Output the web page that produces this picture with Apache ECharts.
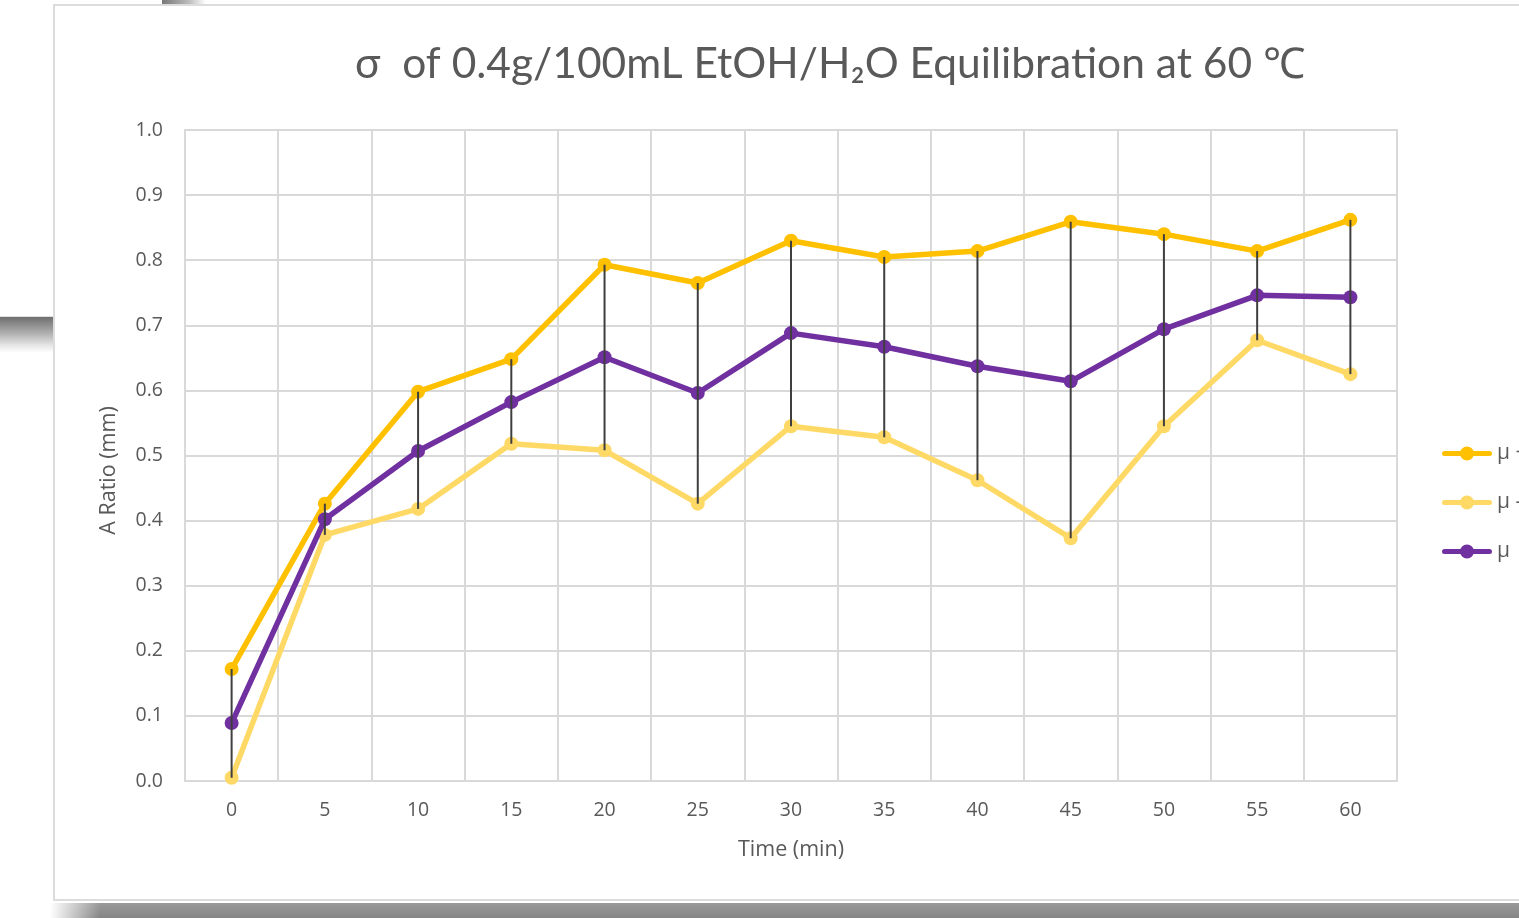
<!DOCTYPE html>
<html>
<head>
<meta charset="utf-8">
<script src="https://cdn.jsdelivr.net/npm/echarts@6/dist/echarts.min.js"></script>
<style>
  html, body { margin: 0; padding: 0; width: 1519px; height: 918px; overflow: hidden; background: #ffffff; }
  .topbar { position: absolute; left: 162px; top: 0; width: 44px; height: 4px; background: linear-gradient(to right, #777 0%, #bbb 60%, #fff 100%); }
  .leftbar { position: absolute; left: 0; top: 316px; width: 53px; height: 36px; background: linear-gradient(to bottom, #6f6f6f 0%, #a8a8a8 40%, #e8e8e8 80%, #ffffff 100%); border-top: 1px solid #e0e0e0; }
  .shadow { position: absolute; left: 50px; top: 903px; width: 1470px; height: 15px; background: linear-gradient(to bottom, #9a9a9a 0%, #858585 100%); -webkit-mask-image: linear-gradient(to right, transparent 0px, #000 50px); mask-image: linear-gradient(to right, transparent 0px, #000 50px); }
  .card { position: absolute; left: 53px; top: 4px; width: 1600px; height: 897px; border: 2px solid #dcdcdc; background: #ffffff; box-sizing: border-box; }
  #chart { position: absolute; left: 2px; top: 2px; width: 1594px; height: 893px; }
</style>
</head>
<body>
<div class="topbar"></div>
<div class="leftbar"></div>
<div class="shadow"></div>
<div class="card"><div id="chart"></div></div>
<script>
const categories = ['0','5','10','15','20','25','30','35','40','45','50','55','60'];
const upperValues = [0.172, 0.426, 0.598, 0.648, 0.793, 0.765, 0.830, 0.805, 0.814, 0.859, 0.840, 0.814, 0.862];
const lowerValues = [0.005, 0.378, 0.418, 0.518, 0.508, 0.426, 0.545, 0.528, 0.462, 0.373, 0.545, 0.677, 0.625];
const meanValues  = [0.089, 0.402, 0.507, 0.582, 0.651, 0.596, 0.688, 0.667, 0.637, 0.614, 0.694, 0.746, 0.743];
const seriesNames = ['μ + σ', 'μ - σ', 'μ'];

const errorData = categories.map((c, i) => [i, upperValues[i], lowerValues[i]]);

const chart = echarts.init(document.getElementById('chart'));
const titleFont = 'Lato, "Open Sans", sans-serif';
const axisFont = '"Open Sans", Lato, sans-serif';
const gray = '#595959';
const gridColor = '#d9d9d9';
const legendIcon = 'path://M2.5,4.5 L47.5,4.5 A2.5,2.5 0 0 1 47.5,9.5 L2.5,9.5 A2.5,2.5 0 0 1 2.5,4.5 Z M32,7 A7,7 0 1 1 18,7 A7,7 0 1 1 32,7 Z';

chart.setOption({
  animation: false,
  textStyle: { fontFamily: axisFont },
  title: {
    text: 'σ  of 0.4g/100mL EtOH/H₂O Equilibration at 60 ℃',
    left: 768,
    textAlign: 'center',
    top: 30,
    textStyle: { fontFamily: titleFont, fontSize: 42.5, fontWeight: 'normal', color: gray }
  },
  legend: {
    orient: 'vertical',
    left: 1380,
    top: 430,
    itemWidth: 50,
    itemHeight: 14,
    itemGap: 28,
    textStyle: { fontFamily: axisFont, fontSize: 21, color: gray, padding: [11, 0, 0, 0] },
    data: seriesNames.map(n => ({ name: n, icon: legendIcon }))
  },
  grid: {
    left: 128, top: 122, width: 1212, height: 651,
    show: true, borderColor: gridColor, borderWidth: 2
  },
  xAxis: {
    type: 'category',
    data: categories,
    boundaryGap: true,
    name: 'Time (min)',
    nameLocation: 'middle',
    nameGap: 58,
    nameTextStyle: { fontFamily: axisFont, fontSize: 21.5, color: gray },
    axisLine: { show: true, lineStyle: { color: gridColor, width: 2 } },
    axisTick: { show: false },
    axisLabel: { fontFamily: axisFont, fontSize: 19.5, color: gray, margin: 19 },
    splitLine: { show: true, lineStyle: { color: gridColor, width: 2 } }
  },
  yAxis: {
    type: 'value',
    min: 0, max: 1, interval: 0.1,
    name: 'A Ratio (mm)',
    nameLocation: 'middle',
    nameGap: 65,
    nameRotate: 90,
    nameTextStyle: { fontFamily: axisFont, fontSize: 21.5, color: gray, padding: [0, 0, 0, -30] },
    axisLine: { show: false },
    axisTick: { show: false },
    axisLabel: { fontFamily: axisFont, fontSize: 19.5, color: gray, margin: 22, formatter: v => v.toFixed(1) },
    splitLine: { show: true, lineStyle: { color: gridColor, width: 2 } }
  },
  series: [
    {
      name: seriesNames[0], type: 'line', data: upperValues,
      symbol: 'circle', symbolSize: 14,
      lineStyle: { color: '#FFC000', width: 5.5 },
      itemStyle: { color: '#FFC000' }, z: 2
    },
    {
      name: seriesNames[1], type: 'line', data: lowerValues,
      symbol: 'circle', symbolSize: 14,
      lineStyle: { color: '#FFD966', width: 5.5 },
      itemStyle: { color: '#FFD966' }, z: 2
    },
    {
      name: seriesNames[2], type: 'line', data: meanValues,
      symbol: 'circle', symbolSize: 14,
      lineStyle: { color: '#7030A0', width: 5.5 },
      itemStyle: { color: '#7030A0' }, z: 3
    },
    {
      name: 'error', type: 'custom', data: errorData, z: 10,
      renderItem: function (params, api) {
        const top = api.coord([api.value(0), api.value(1)]);
        const bot = api.coord([api.value(0), api.value(2)]);
        return {
          type: 'line',
          shape: { x1: top[0], y1: top[1], x2: bot[0], y2: bot[1] },
          style: { stroke: '#3f3f3f', lineWidth: 2 }
        };
      },
      encode: { x: 0, y: [1, 2] },
      silent: true
    }
  ]
});
</script>
</body>
</html>
